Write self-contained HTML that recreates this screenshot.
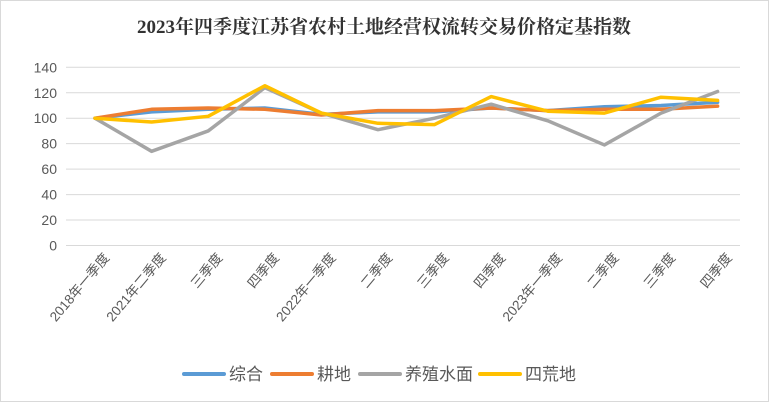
<!DOCTYPE html>
<html><head><meta charset="utf-8"><style>
body{margin:0;background:#fff}
svg{display:block;font-family:"Liberation Sans","Noto Sans CJK SC",sans-serif}
</style></head><body>
<svg id="c" width="769" height="402">
<rect x="0.5" y="0.5" width="768" height="401" fill="#fff" stroke="#d9d9d9"/>
<text x="384" y="33" text-anchor="middle" font-size="19" font-weight="bold" fill="#333" font-family="'Liberation Serif','Noto Serif CJK SC',serif">2023年四季度江苏省农村土地经营权流转交易价格定基指数</text>
<g id="grid"></g><g id="series"></g><g id="xl"></g>
<g font-size="17" fill="#595959">
<line x1="184" y1="374" x2="224" y2="374" stroke="#5b9bd5" stroke-width="4" stroke-linecap="round"/><text x="229" y="380">综合</text>
<line x1="272" y1="374" x2="312" y2="374" stroke="#ed7d31" stroke-width="4" stroke-linecap="round"/><text x="317" y="380">耕地</text>
<line x1="360" y1="374" x2="400" y2="374" stroke="#a5a5a5" stroke-width="4" stroke-linecap="round"/><text x="405" y="380">养殖水面</text>
<line x1="480" y1="374" x2="520" y2="374" stroke="#ffc000" stroke-width="4" stroke-linecap="round"/><text x="525" y="380">四荒地</text>
</g>
</svg>
<script>
const categories=["2018年一季度","2021年二季度","三季度","四季度","2022年一季度","二季度","三季度","四季度","2023年一季度","二季度","三季度","四季度"];
const composite=[100,105,107,108,103,105,105,108,106,109,110,112.5];
const farmland=[100,107,108,107,102.5,106,106,108,106,107,107,109.5];
const aquaculture=[100,74,90,124,104,91,100,111,98,79,104,121];
const wasteland=[100,97,101.5,125.5,104,96,95,117,105.5,104,116.5,114];
const yTicks=[0,20,40,60,80,100,120,140];
const NS="http://www.w3.org/2000/svg";
const x=i=>95+i*56.6;
const y=v=>245.5-v*(178.2/140);
const grid=document.getElementById('grid'),ser=document.getElementById('series'),xl=document.getElementById('xl');
yTicks.forEach(t=>{
 const l=document.createElementNS(NS,'line');
 l.setAttribute('x1',66);l.setAttribute('x2',740);l.setAttribute('y1',y(t));l.setAttribute('y2',y(t));
 l.setAttribute('stroke','#d9d9d9');
 
 
 grid.appendChild(l);
 const tx=document.createElementNS(NS,'text');
 tx.setAttribute('x',57);tx.setAttribute('y',y(t)+5);tx.setAttribute('text-anchor','end');tx.setAttribute('font-size','14');tx.setAttribute('fill','#595959');
 tx.textContent=t;
 
 
 grid.appendChild(tx);
});
categories.forEach((c,i)=>{
 const tx=document.createElementNS(NS,'text');
 const px=x(i)+15,py=258;
 tx.setAttribute('x',px);tx.setAttribute('y',py);tx.setAttribute('text-anchor','end');tx.setAttribute('font-size','13.5');tx.setAttribute('fill','#595959');
 tx.setAttribute('transform','rotate(-50 '+px+' '+py+')');
 tx.textContent=c;
 
 
 xl.appendChild(tx);
});
[[composite,'#5b9bd5','series-composite'],[farmland,'#ed7d31','series-farmland'],[aquaculture,'#a5a5a5','series-aquaculture'],[wasteland,'#ffc000','series-wasteland']].forEach(([d,col,n])=>{
 const p=document.createElementNS(NS,'polyline');
 p.setAttribute('points',d.map((v,i)=>x(i)+','+y(v)).join(' '));
 p.setAttribute('fill','none');p.setAttribute('stroke',col);p.setAttribute('stroke-width','3.5');p.setAttribute('stroke-linejoin','round');p.setAttribute('stroke-linecap','round');
 
 
 ser.appendChild(p);
});
</script>
</body></html>
